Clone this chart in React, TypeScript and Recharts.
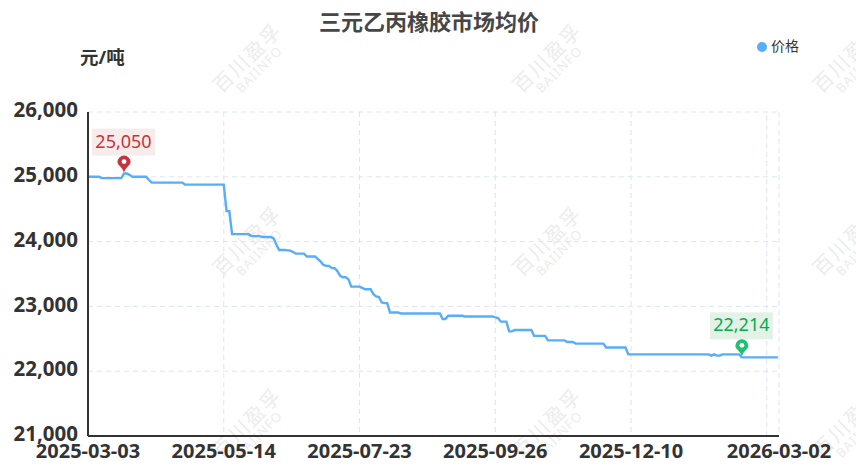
import { CartesianGrid, Legend, Line, LineChart, ReferenceDot, ReferenceLine, XAxis, YAxis } from 'recharts';

const prices = [
  25000, 25000, 25000, 25000, 25000, 24980, 24980, 24980, 24980, 24980,
  24980, 24980, 24980, 25050, 25050, 25030, 25000, 25000, 25000, 25000,
  25000, 25000, 24950, 24910, 24910, 24910, 24910, 24910, 24910, 24910,
  24910, 24910, 24910, 24910, 24910, 24880, 24880, 24880, 24880, 24880,
  24880, 24880, 24880, 24880, 24880, 24880, 24880, 24880, 24880, 24880,
  24470, 24470, 24115, 24115, 24115, 24115, 24115, 24115, 24115, 24085,
  24085, 24085, 24085, 24070, 24070, 24070, 24070, 24050, 23950, 23870,
  23870, 23870, 23865, 23860, 23840, 23815, 23815, 23815, 23815, 23770,
  23770, 23770, 23770, 23730, 23690, 23640, 23625, 23625, 23590, 23590,
  23545, 23470, 23450, 23450, 23420, 23305, 23305, 23305, 23305, 23285,
  23265, 23265, 23265, 23190, 23155, 23145, 23060, 23050, 23050, 22905,
  22905, 22905, 22905, 22890, 22890, 22890, 22890, 22890, 22890, 22890,
  22890, 22890, 22890, 22890, 22890, 22890, 22890, 22890, 22805, 22805,
  22855, 22855, 22855, 22855, 22855, 22855, 22845, 22845, 22845, 22845,
  22845, 22845, 22845, 22845, 22845, 22845, 22845, 22830, 22820, 22765,
  22765, 22765, 22615, 22615, 22635, 22635, 22635, 22635, 22635, 22635,
  22635, 22545, 22545, 22545, 22545, 22545, 22475, 22475, 22475, 22475,
  22475, 22475, 22475, 22450, 22450, 22450, 22425, 22425, 22425, 22425,
  22425, 22425, 22425, 22425, 22425, 22425, 22425, 22365, 22365, 22365,
  22365, 22365, 22365, 22365, 22365, 22260, 22260, 22260, 22260, 22260,
  22260, 22260, 22260, 22260, 22260, 22260, 22260, 22260, 22260, 22260,
  22260, 22260, 22260, 22260, 22260, 22260, 22260, 22260, 22260, 22260,
  22260, 22260, 22260, 22260, 22260, 22240, 22260, 22240, 22240, 22260,
  22260, 22260, 22260, 22260, 22260, 22260, 22214, 22214, 22214, 22214,
  22214, 22214, 22214, 22214, 22214, 22214, 22214, 22214, 22214, 22214,
];
const xTicks = [0, 49, 98, 147, 196, 249.4];
const xLabels = ['2025-03-03', '2025-05-14', '2025-07-23', '2025-09-26', '2025-12-10', '2026-03-02'];
const extraGridIndex = 245;
const yTicks = [21000, 22000, 23000, 24000, 25000, 26000];
const maxIndex = 13;
const minIndex = 236;
const watermarkX = [252, 552, 852];
const watermarkY = [67, 250, 432];

const data = prices.map((price, index) => ({ index, price }));
const font = '"Noto Sans", "Noto Sans CJK SC", sans-serif';
const gridColor = '#dfe4f3';

function Pin({ cx, cy, value, color, textColor, bg }: any) {
  const tip = cy - 1;
  return (
    <g>
      <rect x={cx - 32} y={tip - 44} width={63} height={27} fill={bg} />
      <text x={cx - 0.5} y={tip - 25} textAnchor="middle" fontSize={18} fontFamily={font} fill={textColor}>
        {value.toLocaleString('en-US')}
      </text>
      <path
        d={`M${cx} ${tip} C${cx - 2} ${tip - 6} ${cx - 6.5} ${tip - 7} ${cx - 6.5} ${tip - 10.5} A6.5 6.5 0 1 1 ${cx + 6.5} ${tip - 10.5} C${cx + 6.5} ${tip - 7} ${cx + 2} ${tip - 6} ${cx} ${tip} Z`}
        fill={color}
      />
      <circle cx={cx} cy={tip - 11} r={2.4} fill="#fff" />
    </g>
  );
}

export default function App() {
  return (
    <div style={{ position: 'absolute', left: 0, top: 0, width: 856, height: 475, overflow: 'hidden', background: '#fff', fontFamily: font }}>
      {watermarkY.flatMap((y) =>
        watermarkX.map((x) => (
          <div
            key={`${x}-${y}`}
            style={{ position: 'absolute', left: x - 60, top: y - 22, width: 120, textAlign: 'center', transform: 'rotate(-45deg)', color: '#ececec', lineHeight: 1.05 }}
          >
            <div style={{ fontSize: 20, letterSpacing: 2 }}>百川盈孚</div>
            <div style={{ fontSize: 13, letterSpacing: 1 }}>BAIINFO</div>
          </div>
        ))
      )}
      <div style={{ position: 'absolute', left: 1, top: 7, width: 856, textAlign: 'center', fontSize: 22, fontWeight: 700, color: '#464646', lineHeight: '28px' }}>
        三元乙丙橡胶市场均价
      </div>
      <div style={{ position: 'absolute', left: 80, top: 45, fontSize: 18.5, fontWeight: 700, color: '#333', lineHeight: '24px' }}>元/吨</div>
      <LineChart width={856} height={475} data={data} margin={{ top: 88, right: 77, bottom: 0, left: 0 }} style={{ position: 'absolute', left: 0, top: 0 }}>
        <CartesianGrid stroke={gridColor} strokeDasharray="5 4" />
        <XAxis
          dataKey="index"
          type="number"
          domain={[0, 249.4]}
          ticks={xTicks}
          tickFormatter={(v: number) => xLabels[xTicks.indexOf(v)]}
          interval={0}
          height={39}
          tickLine={false}
          tickMargin={2}
          axisLine={{ stroke: '#333', strokeWidth: 2 }}
          tick={{ fontSize: 20, fontWeight: 700, fill: '#333', fontFamily: font }}
        />
        <YAxis
          domain={[21000, 26000]}
          ticks={yTicks}
          width={88}
          interval={0}
          tickLine={false}
          tickMargin={4}
          tickFormatter={(v: number) => v.toLocaleString('en-US')}
          axisLine={{ stroke: '#333', strokeWidth: 2 }}
          tick={{ fontSize: 20.5, fontWeight: 700, fill: '#333', fontFamily: font, dy: -2 }}
        />
        <ReferenceLine x={extraGridIndex} stroke={gridColor} strokeDasharray="5 4" />
        <Legend
          verticalAlign="top"
          align="right"
          iconType="circle"
          iconSize={10}
          formatter={(v: string) => <span style={{ color: '#333', fontSize: 14 }}>{v}</span>}
          wrapperStyle={{ position: 'absolute', left: 749, top: 34, width: 60, height: 24, right: 'auto', textAlign: 'left' }}
        />
        <Line dataKey="price" name="价格" type="linear" stroke="#57aef8" strokeWidth={2.4} dot={false} activeDot={false} isAnimationActive={false} />
        <ReferenceDot
          x={maxIndex}
          y={prices[maxIndex]}
          shape={(p: any) => <Pin {...p} value={prices[maxIndex]} color="#c8323a" textColor="#c8323a" bg="#f7ecec" />}
        />
        <ReferenceDot
          x={minIndex}
          y={prices[minIndex]}
          shape={(p: any) => <Pin {...p} value={prices[minIndex]} color="#1fc06f" textColor="#0aa84f" bg="#e2f2e7" />}
        />
      </LineChart>
    </div>
  );
}
